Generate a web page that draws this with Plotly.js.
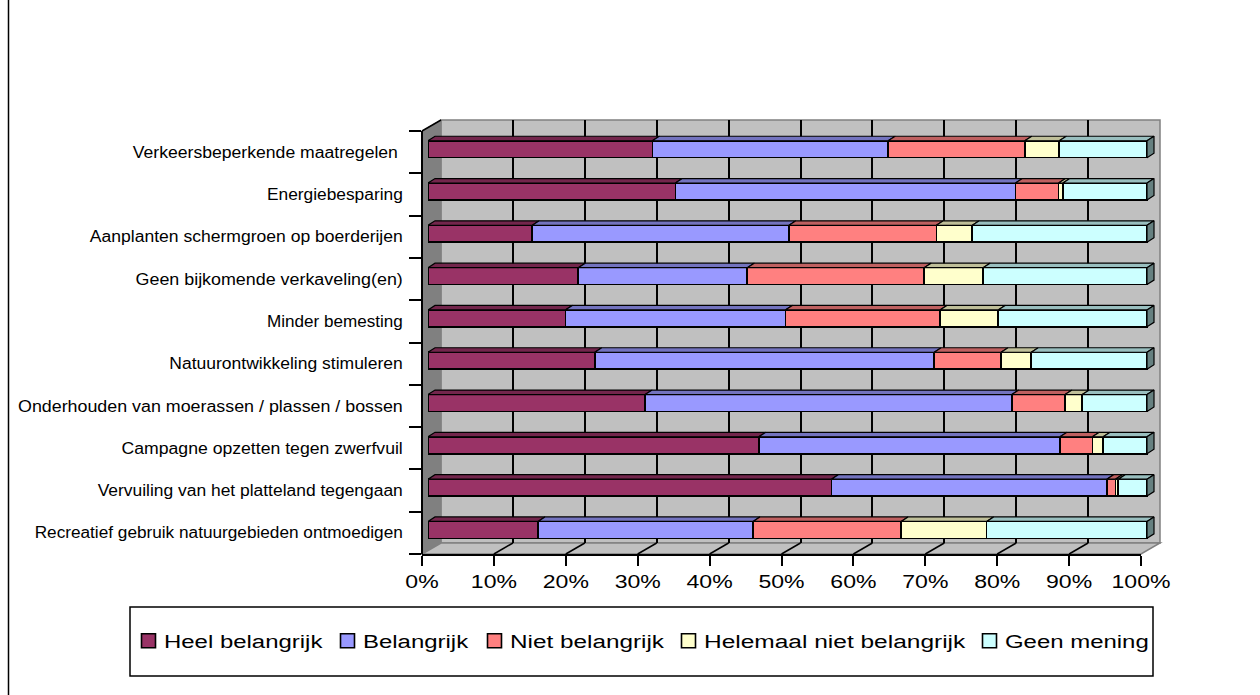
<!DOCTYPE html>
<html>
<head>
<meta charset="utf-8">
<script src="https://cdn.plot.ly/plotly-3.0.1.min.js"></script>
<style>
html,body{margin:0;padding:0;background:#fff}
</style>
</head>
<body>
<div id="chart" style="width:1260px;height:695px"></div>
<script>
const categories = [
  "Verkeersbeperkende maatregelen ",
  "Energiebesparing",
  "Aanplanten schermgroen op boerderijen",
  "Geen bijkomende verkaveling(en)",
  "Minder bemesting",
  "Natuurontwikkeling stimuleren",
  "Onderhouden van moerassen / plassen / bossen",
  "Campagne opzetten tegen zwerfvuil",
  "Vervuiling van het platteland tegengaan",
  "Recreatief gebruik natuurgebieden ontmoedigen"
];
const heelBelangrijk = [31.2, 34.4, 14.5, 20.9, 19.1, 23.2, 30.2, 46.0, 56.1, 15.3];
const belangrijk     = [32.8, 47.3, 35.7, 23.5, 30.6, 47.2, 51.0, 41.9, 38.3, 29.9];
const nietBelangrijk = [19.0,  6.0, 20.5, 24.6, 21.5,  9.3,  7.4,  4.5,  1.2, 20.6];
const helemaalNiet   = [ 4.8,  0.6,  5.0,  8.2,  8.1,  4.2,  2.4,  1.5,  0.4, 11.9];
const geenMening     = [12.2, 11.7, 24.3, 22.8, 20.7, 16.1,  9.0,  6.1,  4.0, 22.3];
const seriesNames = ["Heel belangrijk","Belangrijk","Niet belangrijk","Helemaal niet belangrijk","Geen mening"];
const seriesValues = [heelBelangrijk, belangrijk, nietBelangrijk, helemaalNiet, geenMening];
const frontColors = ["#993366","#9999FF","#FF8080","#FFFFCC","#CCFFFF"];
const topColors   = ["#73264C","#7373BF","#BF6060","#BFBF99","#99BFBF"];
const capColor = "#668080";
const xTicks = [0,10,20,30,40,50,60,70,80,90,100];

const W = 1260, H = 695;
const fx = p => p / W, fy = p => 1 - p / H;
const barWidth = 0.40, barOffset = -0.27;
const depthX = 7 / 7.19, depthY = 4.5 / 42.3;
const indices = categories.map((_, i) => i);

// text stretch and legend layout in page pixels
const labelStretch = [1.10, 1.083, 1.096, 1.117, 1.067, 1.094, 1.115, 1.102, 1.089, 1.075];
const legendSwatchCentres = [148.5, 347.5, 494.5, 688.5, 989.5];
const legendTextGap = 15.5;
const legendStretch = [1.33, 1.33, 1.35, 1.36, 1.33];

const traces = [];
// placeholder so the back-wall subplot exists and draws its grid below the bars
traces.push({type:"scatter", mode:"none", x:[0,100], y:[0,1], xaxis:"x", yaxis:"y", showlegend:false, hoverinfo:"skip"});
seriesValues.forEach((vals, s) => {
  traces.push({
    type: "bar", orientation: "h", name: seriesNames[s],
    x: vals, y: indices, xaxis: "x2", yaxis: "y2",
    width: barWidth, offset: barOffset,
    marker: {color: frontColors[s], line: {color: "#000", width: 1.6}},
    hoverinfo: "x+name"
  });
});
const base = categories.map(() => 0);
seriesValues.forEach((vals, s) => {
  const xs = [], ys = [];
  vals.forEach((v, i) => {
    const a = base[i], b = a + v, t = i + barOffset;
    xs.push(a, b, b + depthX, a + depthX, a, null);
    ys.push(t, t, t - depthY, t - depthY, t, null);
    base[i] = b;
  });
  traces.push({
    type: "scatter", mode: "lines", x: xs, y: ys, xaxis: "x2", yaxis: "y2",
    fill: "toself", fillcolor: topColors[s], line: {color: "#000", width: 1.2},
    showlegend: false, hoverinfo: "skip"
  });
});
{
  const xs = [], ys = [];
  indices.forEach(i => {
    const e = base[i], t = i + barOffset, b = t + barWidth;
    xs.push(e, e + depthX, e + depthX, e, e, null);
    ys.push(t, t - depthY, b - depthY, b, t, null);
  });
  traces.push({
    type: "scatter", mode: "lines", x: xs, y: ys, xaxis: "x2", yaxis: "y2",
    fill: "toself", fillcolor: capColor, line: {color: "#000", width: 1.2},
    showlegend: false, hoverinfo: "skip"
  });
}

const poly = (pts, fill, lineColor, lw) => ({
  type: "path", xref: "paper", yref: "paper", layer: "below",
  path: "M" + pts.map(p => fx(p[0]) + "," + fy(p[1])).join("L") + "Z",
  fillcolor: fill, line: {color: lineColor, width: lw}
});
const paperLine = (x0, y0, x1, y1, color, lw) => ({
  type: "line", xref: "paper", yref: "paper", layer: "below",
  x0: fx(x0), y0: fy(y0), x1: fx(x1), y1: fy(y1), line: {color: color, width: lw}
});
const shapes = [
  poly([[441,120],[1160,120],[1160,543],[441,543]], "#C0C0C0", "#808080", 1.5),
  poly([[422,131],[441,120],[441,543],[422,554]], "#808080", "#808080", 1),
  poly([[422,554],[441,543],[1160,543],[1141,554]], "#C0C0C0", "#808080", 1.5),
  paperLine(422,131,441,120,"#000",1.5),
  paperLine(8.5,0,8.5,695,"#000",1.5),
  {type:"rect", xref:"paper", yref:"paper", layer:"below",
   x0:fx(130), x1:fx(1153), y0:fy(607), y1:fy(676), fillcolor:"#fff", line:{color:"#000", width:1.5}}
];
xTicks.slice(1, -1).forEach(k => shapes.push({
  type: "line", xref: "x3", yref: "paper", layer: "below",
  x0: k, x1: k + 19 / 7.19, y0: fy(554), y1: fy(543), line: {color: "#000", width: 1.5}
}));

const layout = {
  width: W, height: H, autosize: false,
  margin: {l:0, r:0, t:0, b:0},
  paper_bgcolor: "#fff", plot_bgcolor: "rgba(0,0,0,0)",
  barmode: "stack", showlegend: true,
  font: {family: "Liberation Sans, Arial, sans-serif", color: "#000"},
  // back wall grid
  xaxis: {domain:[fx(441),fx(1160)], range:[0,100], anchor:"y", showgrid:true, gridcolor:"#000", gridwidth:1.5,
          tickmode:"array", tickvals:xTicks.slice(1,-1), showticklabels:false, ticks:"", zeroline:false, showline:false},
  yaxis: {domain:[fy(543),fy(120)], range:[0,1], anchor:"x", showgrid:false, showticklabels:false, ticks:"", zeroline:false, showline:false},
  // bars: the range runs to 102 so the depth faces of the last segment are not clipped
  xaxis2: {domain:[fx(428),fx(428+7.19*102)], range:[0,102], anchor:"y2", showgrid:false, showticklabels:false, ticks:"", zeroline:false, showline:false},
  yaxis2: {domain:[fy(554),fy(131)], range:[9.5,-0.5], anchor:"free", position:fx(422),
           tickmode:"array", tickvals:indices, ticktext:categories, ticks:"", ticklabelstandoff:15,
           tickfont:{size:16, color:"#000"}, showgrid:false, zeroline:false,
           showline:true, linecolor:"#000", linewidth:2,
           minor:{tickmode:"array", tickvals:indices.map(i=>i-0.5).concat([9.5]), ticks:"outside", ticklen:12, tickwidth:1.5, tickcolor:"#000", showgrid:false}},
  // front floor axis
  xaxis3: {domain:[fx(422),fx(1141)], range:[0,100], anchor:"y2", side:"bottom",
           tickmode:"array", tickvals:xTicks, ticktext:xTicks.map(v=>v+"%"), ticks:"outside", ticklen:10, tickwidth:1.5, tickcolor:"#000",
           tickfont:{size:18, color:"#000"}, showgrid:false, zeroline:false, showline:true, linecolor:"#000", linewidth:2},
  legend: {orientation:"h", x:fx(133), y:fy(641), xanchor:"left", yanchor:"middle",
           font:{size:18, color:"#000"}, bgcolor:"rgba(0,0,0,0)", borderwidth:0, traceorder:"normal", itemclick:false, itemdoubleclick:false},
  shapes: shapes
};

function stretchEl(t, factor) {
  t.setAttribute("textLength", t.getComputedTextLength() * factor);
  t.setAttribute("lengthAdjust", "spacingAndGlyphs");
}
function placeLegend() {
  const legend = document.querySelector(".legend");
  const m = /translate\(([-\d.]+)/.exec(legend.getAttribute("transform") || "");
  const rootX = m ? parseFloat(m[1]) : 0;
  legend.querySelectorAll(".scrollbox").forEach(g => g.removeAttribute("clip-path"));
  legend.querySelectorAll(".traces").forEach((g, i) => {
    const cur = /translate\(([-\d.]+)[, ]+([-\d.]+)/.exec(g.getAttribute("transform") || "");
    const y = cur ? cur[2] : 0;
    g.setAttribute("transform", "translate(" + (legendSwatchCentres[i] - 20 - rootX) + "," + y + ")");
    const text = g.querySelector(".legendtext");
    text.setAttribute("x", 20 + legendTextGap);
    stretchEl(text, legendStretch[i]);
    g.querySelectorAll(".legendbar, .legendundefined").forEach(p => p.setAttribute("d", "M7,7H-7V-7H7Z"));
  });
}
Plotly.newPlot("chart", traces, layout, {displayModeBar:false, responsive:false}).then(() => {
  document.querySelectorAll(".xaxislayer-above .x3tick text").forEach(t => stretchEl(t, 1.28));
  document.querySelectorAll(".yaxislayer-above .y2tick text").forEach(t => {
    const i = categories.indexOf(t.textContent);
    const j = i >= 0 ? i : categories.findIndex(c => c.trim() === t.textContent.trim());
    stretchEl(t, labelStretch[j]);
  });
  placeLegend();
});
</script>
</body>
</html>
